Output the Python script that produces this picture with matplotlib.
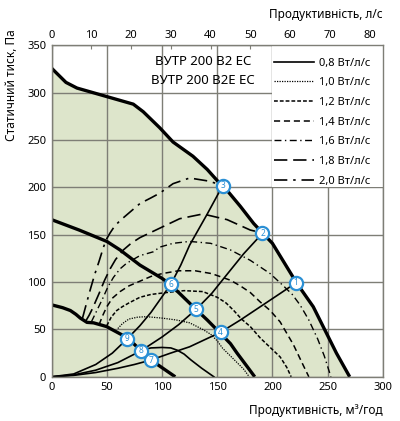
import matplotlib
matplotlib.use("Agg")
import matplotlib.pyplot as plt
from matplotlib.patches import Rectangle

plt.rcParams['font.family'] = ['Noto Sans', 'DejaVu Sans']

# ---- data (m3/h, Pa) ----
outer_x = [0, 13, 23, 50, 74, 83, 98, 110, 128, 141, 151, 156, 171, 183, 191, 200, 222, 237, 249, 258, 270]
outer_y = [326, 311, 305, 296, 288, 280, 263, 248, 233, 219, 206, 201, 180, 162, 152, 141, 99, 74, 46, 25, 0]

mid_x = [0, 25, 50, 62, 80, 100, 107, 116, 131, 141, 152, 162, 168, 177, 184]
mid_y = [166, 155, 143, 134, 118, 104, 98, 88, 71, 60, 47, 35, 25, 11, 0]

low_x = [0, 10, 17, 22, 26, 32, 38, 41, 50, 53, 69, 81, 90, 112]
low_y = [76, 73, 70, 66, 62, 57.5, 57, 56, 53, 51, 41, 27.5, 17.7, 0]

# system curves
sysA_x = [0, 20, 40, 60, 75, 90, 107, 125, 153, 171, 189, 207, 221.5]
sysA_y = [0, 1.5, 4.5, 9, 13, 17.7, 24.7, 31.7, 47, 60, 74, 88, 99.4]
sysB_x = [0, 20, 40, 60, 81, 100, 115, 131, 145, 156, 174, 191]
sysB_y = [0, 2, 7, 15, 27.5, 42, 55, 71.3, 88, 104, 130, 151.6]
sysC_x = [0, 20, 40, 55, 68.6, 80, 90, 108, 117, 125, 141, 155]
sysC_y = [0, 3, 13, 25, 40.2, 54, 68, 97.7, 118, 139, 172, 202]

# specific fan power curves
sfp08_x = [81, 90, 100, 108, 114, 120, 126, 136, 147]
sfp08_y = [28, 30.5, 31, 30.5, 28, 24, 18, 9, 0]
sfp10_x = [60, 64, 70, 78, 86, 100, 113, 125, 137, 144, 150, 155, 162, 168, 174, 179]
sfp10_y = [51, 56, 61, 63, 63.5, 62, 60, 57, 50, 45, 38, 30, 22, 15, 8, 0]
sfp12_x = [50, 54, 59, 64, 70, 80, 90, 104, 120, 137, 150, 158, 165, 172, 180, 189, 198, 207, 213, 217]
sfp12_y = [54, 63, 70, 74, 78, 84, 87, 89, 91, 90, 84, 78, 70, 61, 53, 41, 31, 21, 10, 0]
sfp14_x = [43, 46, 50, 55, 62, 70, 80, 90, 100, 115, 130, 145, 162, 171, 180, 189, 198, 207, 219, 228, 233]
sfp14_y = [55, 64, 74, 83, 90, 96, 101, 106, 109, 112, 112, 109, 102, 96, 89, 79, 70, 58, 34, 12, 0]
sfp16_x = [36, 41, 46, 51, 56, 62, 68, 80, 92, 98, 110, 125, 144, 162, 180, 198, 210, 218, 225, 233, 241, 247, 253]
sfp16_y = [58, 70, 82, 95, 105, 114, 120, 128, 132, 137, 141, 143, 141, 134, 123, 109, 96, 87, 76, 60, 40, 22, 0]
sfp18_x = [31, 34, 37, 40, 43, 48, 53, 58, 65, 72, 80, 98, 116, 137, 159, 180, 191]
sfp18_y = [59, 65, 72, 80, 88, 102, 114, 124, 134, 141, 147, 157, 167, 172, 166, 155, 152]
sfp20_x = [28, 31, 35, 39, 43, 47, 50, 53, 57, 62, 72, 80, 90, 98, 110, 125, 141, 153]
sfp20_y = [62, 75, 92, 108, 122, 137, 146, 152, 159, 165, 175, 183, 189, 194, 204, 210, 207, 203]

legend_labels = ['0,8 Вт/л/с', '1,0 Вт/л/с', '1,2 Вт/л/с', '1,4 Вт/л/с',
                 '1,6 Вт/л/с', '1,8 Вт/л/с', '2,0 Вт/л/с']

point_x = [221.5, 191, 155, 153, 131, 108, 90, 80.7, 68.6]
point_y = [99.4, 151.6, 202, 47, 71.3, 97.7, 17.7, 27.5, 40.2]
point_labels = ['1', '2', '3', '4', '5', '6', '7', '8', '9']

x_ticks = [0, 50, 100, 150, 200, 250, 300]
y_ticks = [0, 50, 100, 150, 200, 250, 300, 350]
top_ticks = [0, 10, 20, 30, 40, 50, 60, 70, 80]

title_lines = ['ВУТР 200 В2 ЕС', 'ВУТР 200 В2Е ЕС']

# ---- figure ----
fig = plt.figure(figsize=(4.0, 4.21), dpi=100)
ax = fig.add_axes([0.129, 0.105, 0.828, 0.787])
ax.set_xlim(0, 300)
ax.set_ylim(0, 350)

grid_c = '#7e7e76'
ax.fill_between(outer_x, outer_y, 0, color='#dde5cb', zorder=1, lw=0)
ax.set_xticks(x_ticks)
ax.set_yticks(y_ticks)
ax.grid(True, color=grid_c, lw=1.0, zorder=2)
ax.set_axisbelow(False)
for s in ax.spines.values():
    s.set_color(grid_c)
    s.set_linewidth(1.0)
    s.set_zorder(10)
ax.tick_params(axis='both', length=0, labelsize=8, pad=4)

# white legend region
ax.add_patch(Rectangle((200, 200), 100, 150, facecolor='white', edgecolor='none', zorder=3))

# thick fan curves
for xs, ys in [(outer_x, outer_y), (mid_x, mid_y), (low_x, low_y)]:
    ax.plot(xs, ys, color='black', lw=2.4, zorder=5, solid_capstyle='butt', solid_joinstyle='round')

# system curves
for xs, ys in [(sysA_x, sysA_y), (sysB_x, sysB_y), (sysC_x, sysC_y)]:
    ax.plot(xs, ys, color='black', lw=1.2, zorder=4)

styles = [
    dict(ls='-', lw=1.2),
    dict(ls=(0, (1, 1)), lw=0.9),
    dict(ls=(0, (2.5, 1.3)), lw=1.1),
    dict(ls=(0, (4, 2.5)), lw=1.1),
    dict(ls=(0, (5, 2.5, 1, 2.5)), lw=1.0),
    dict(ls=(0, (8, 3.5)), lw=1.2),
    dict(ls=(0, (8, 3.5, 1.5, 3.5)), lw=1.2),
]
sfp = [(sfp08_x, sfp08_y), (sfp10_x, sfp10_y), (sfp12_x, sfp12_y), (sfp14_x, sfp14_y),
       (sfp16_x, sfp16_y), (sfp18_x, sfp18_y), (sfp20_x, sfp20_y)]
handles = []
for (xs, ys), st, lab in zip(sfp, styles, legend_labels):
    h, = ax.plot(xs, ys, color='black', zorder=4, label=lab, **st)
    handles.append(h)

leg = ax.legend(handles=handles, loc='upper right', bbox_to_anchor=(1.0, 1.0),
                frameon=False, fontsize=8, handlelength=3.6, labelspacing=0.78,
                borderpad=0.6, handletextpad=0.5)
leg.set_zorder(6)

# points
blue = '#2a8fd4'
ax.plot(point_x, point_y, ls='none', marker='o', ms=9.5, mfc='white', mec=blue, mew=1.6, zorder=7)
for px, py, lb in zip(point_x, point_y, point_labels):
    ax.text(px, py, lb, color=blue, fontsize=6, ha='center', va='center', zorder=8)

# title
ax.text(137, 333, title_lines[0], fontsize=9.5, fontweight='bold', ha='center', va='center', zorder=6)
ax.text(137, 313, title_lines[1], fontsize=9.5, fontweight='bold', ha='center', va='center', zorder=6)

# top axis (l/s)
top = ax.secondary_xaxis('top', functions=(lambda v: v / 3.6, lambda v: v * 3.6))
top.set_xticks(top_ticks)
top.tick_params(axis='x', direction='in', length=3, color=grid_c, labelsize=8, pad=3)
top.spines['top'].set_visible(False)

fig.text(0.957, 0.966, 'Продуктивність, л/с', ha='right', va='center', fontsize=8.5)
fig.text(0.957, 0.026, 'Продуктивність, м³/год', ha='right', va='center', fontsize=8.5)
fig.text(0.03, 0.93, 'Статичний тиск, Па', ha='center', va='top', rotation=90, fontsize=8.5)

fig.savefig('out.png', dpi=100)
